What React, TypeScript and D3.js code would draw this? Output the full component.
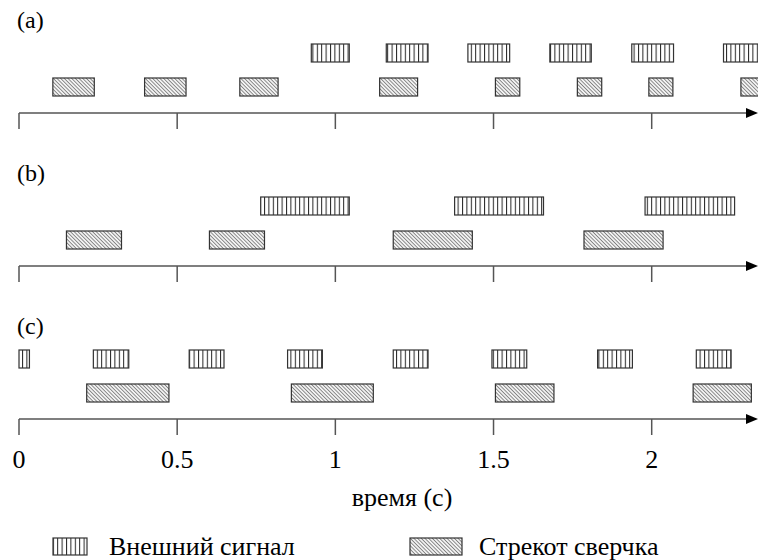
import React from "react";
import * as d3 from "d3";

// ---- data (seconds) ----
const tickValues = [0, 0.5, 1, 1.5, 2];
const tickLabels = ["0", "0.5", "1", "1.5", "2"];
const panelLabels = ["(a)", "(b)", "(c)"];

const signalA: [number, number][] = [[0.924, 1.044], [1.161, 1.293], [1.419, 1.551], [1.678, 1.809], [1.937, 2.069], [2.227, 2.4]];
const chirpA: [number, number][] = [[0.107, 0.238], [0.397, 0.528], [0.698, 0.819], [1.14, 1.26], [1.506, 1.583], [1.765, 1.842], [1.991, 2.067], [2.282, 2.4]];

const signalB: [number, number][] = [[0.764, 1.044], [1.377, 1.658], [1.979, 2.262]];
const chirpB: [number, number][] = [[0.15, 0.324], [0.602, 0.776], [1.183, 1.433], [1.786, 2.036]];

const signalC: [number, number][] = [[0, 0.033], [0.235, 0.347], [0.538, 0.648], [0.849, 0.959], [1.183, 1.293], [1.495, 1.605], [1.829, 1.939], [2.141, 2.251]];
const chirpC: [number, number][] = [[0.214, 0.474], [0.861, 1.12], [1.506, 1.691], [2.131, 2.315]];

const legendLabels = ["Внешний сигнал", "Стрекот сверчка"];

const W = 758;
const H = 560;
const FONT = '"Liberation Serif"';

export default function App() {
  const x = d3.scaleLinear().domain([0, 2]).range([19, 651.7]);
  const axisEnd = 758;
  const panels = [
    { label: panelLabels[0], axisY: 113, signal: signalA, chirp: chirpA },
    { label: panelLabels[1], axisY: 266, signal: signalB, chirp: chirpB },
    { label: panelLabels[2], axisY: 419, signal: signalC, chirp: chirpC },
  ];
  const barH = 18;
  const axisColor = "#555";
  const barStroke = "#333";
  const txt = { fontFamily: FONT, fill: "#000" } as React.CSSProperties;

  return (
    <div style={{ position: "absolute", left: 0, top: 0 }}>
      <svg width={W} height={H} style={{ display: "block", background: "#fff" }}>
        <defs>
          <pattern id="vstripe" patternUnits="userSpaceOnUse" width={4.4} height={10}>
            <rect width={4.4} height={10} fill="#fff" />
            <line x1={0.5} y1={0} x2={0.5} y2={10} stroke="#222" strokeWidth={1} />
          </pattern>
          <pattern id="diag" patternUnits="userSpaceOnUse" width={2.6} height={10} patternTransform="rotate(-45)">
            <rect width={2.6} height={10} fill="#f2f2f2" />
            <line x1={0.4} y1={0} x2={0.4} y2={10} stroke="#666" strokeWidth={0.8} />
          </pattern>
        </defs>

        {panels.map((p, i) => (
          <g key={i}>
            <text x={17} y={p.axisY - 85} fontSize={24} style={txt}>
              {p.label}
            </text>
            {p.signal.map(([s, e], j) => (
              <rect
                key={"s" + j}
                x={x(s)}
                y={p.axisY - 69}
                width={x(e) - x(s)}
                height={barH}
                fill="url(#vstripe)"
                stroke={barStroke}
                strokeWidth={1.2}
              />
            ))}
            {p.chirp.map(([s, e], j) => (
              <rect
                key={"c" + j}
                x={x(s)}
                y={p.axisY - 35}
                width={x(e) - x(s)}
                height={barH}
                fill="url(#diag)"
                stroke={barStroke}
                strokeWidth={1.2}
              />
            ))}
            <line x1={x(0)} y1={p.axisY} x2={axisEnd - 8} y2={p.axisY} stroke={axisColor} strokeWidth={1.5} />
            {tickValues.map((t) => (
              <line key={t} x1={x(t)} y1={p.axisY} x2={x(t)} y2={p.axisY + 16} stroke={axisColor} strokeWidth={1.5} />
            ))}
            <polygon
              points={`${axisEnd},${p.axisY} ${axisEnd - 12},${p.axisY - 5} ${axisEnd - 12},${p.axisY + 5}`}
              fill="#000"
            />
          </g>
        ))}

        {tickValues.map((t, i) => (
          <text key={t} x={x(t)} y={468} fontSize={26} textAnchor="middle" style={txt}>
            {tickLabels[i]}
          </text>
        ))}
        <text x={402} y={506} fontSize={26} textAnchor="middle" style={txt}>
          время (с)
        </text>

        {/* legend */}
        <rect x={53} y={538} width={34} height={17} fill="url(#vstripe)" stroke={barStroke} strokeWidth={1.2} />
        <text x={109} y={555} fontSize={26} style={txt}>
          {legendLabels[0]}
        </text>
        <rect x={410} y={538} width={52} height={17} fill="url(#diag)" stroke={barStroke} strokeWidth={1.2} />
        <text x={479} y={555} fontSize={26} style={txt}>
          {legendLabels[1]}
        </text>
      </svg>
    </div>
  );
}
